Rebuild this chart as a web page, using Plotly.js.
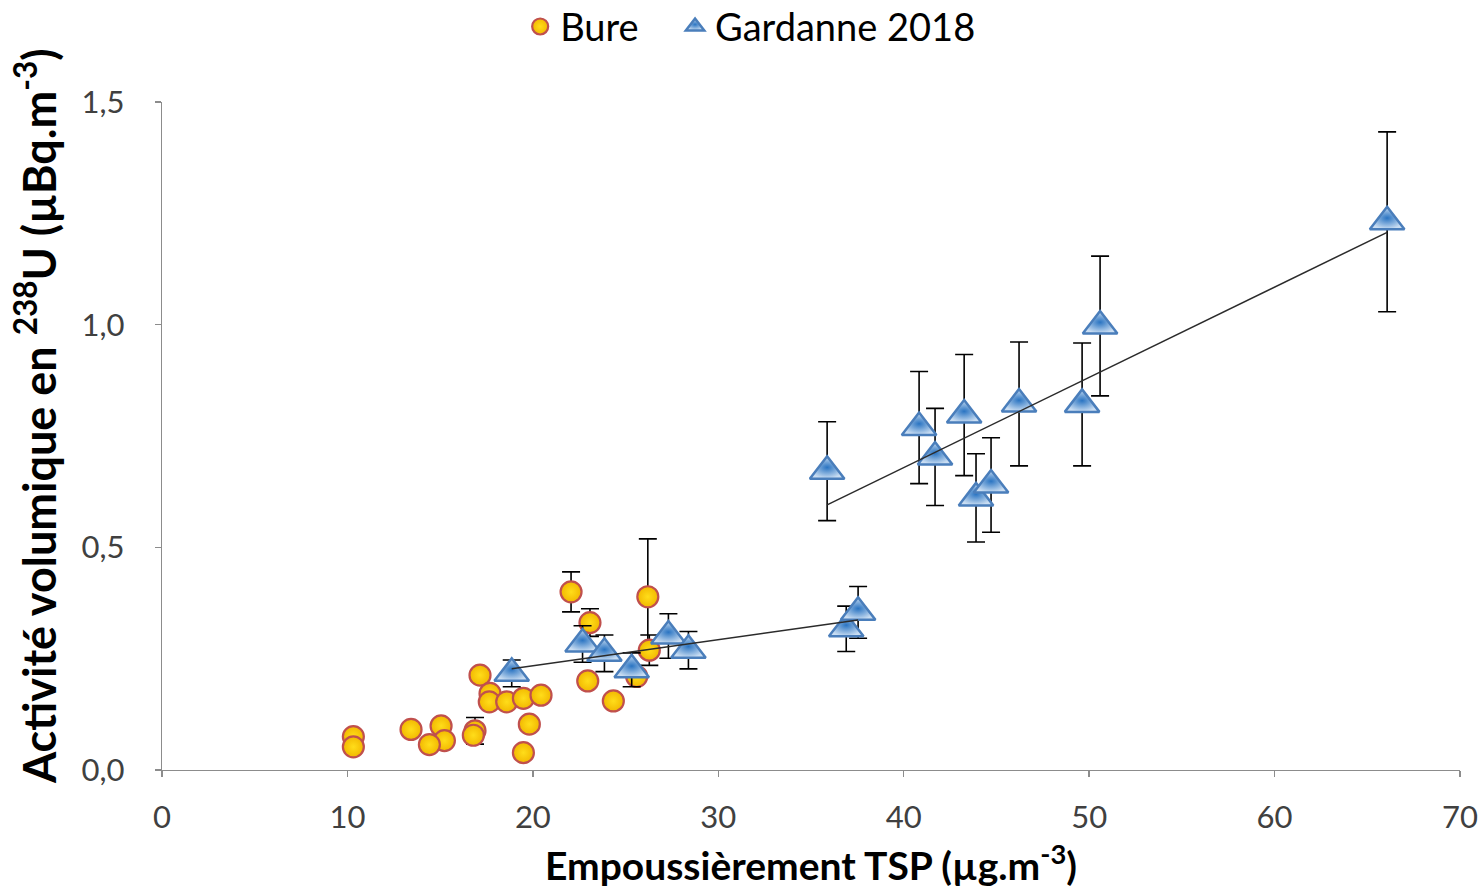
<!DOCTYPE html>
<html>
<head>
<meta charset="utf-8">
<script src="https://cdn.plot.ly/plotly-3.0.1.min.js"></script>
<style>html,body{margin:0;padding:0;background:#fff}#chart{width:1482px;height:893px}</style>
</head>
<body>
<div id="chart"></div>
<script>
// Bure
const bureX   = [10.32, 10.32, 13.43, 15.05, 15.23, 14.42, 16.88, 16.79, 17.15, 17.69, 17.65, 18.59, 19.49, 20.44, 19.81, 19.49, 22.06, 23.08, 22.96, 24.34, 26.20, 26.28, 25.60];
const bureY   = [0.075, 0.052, 0.091, 0.099, 0.066, 0.057, 0.088, 0.078, 0.213, 0.172, 0.153, 0.153, 0.161, 0.168, 0.103, 0.039, 0.400, 0.331, 0.200, 0.155, 0.389, 0.269, 0.210];
const bureErr = [0, 0, 0, 0, 0, 0, 0.030, 0, 0, 0, 0, 0, 0, 0, 0, 0, 0.045, 0.031, 0, 0, 0.130, 0.034, 0];

// Gardanne 2018 - low dust group
const gardLowX   = [18.86, 22.68, 23.86, 25.33, 27.31, 28.39, 36.90, 37.54];
const gardLowY   = [0.217, 0.283, 0.262, 0.225, 0.301, 0.269, 0.317, 0.354];
const gardLowErr = [0.030, 0.041, 0.041, 0.038, 0.050, 0.042, 0.051, 0.058];

// Gardanne 2018 - high dust group
const gardHighX   = [35.87, 40.83, 41.69, 43.26, 43.90, 44.71, 46.22, 49.62, 50.59, 66.07];
const gardHighY   = [0.671, 0.769, 0.703, 0.797, 0.611, 0.640, 0.822, 0.821, 0.997, 1.231];
const gardHighErr = [0.111, 0.126, 0.109, 0.136, 0.099, 0.106, 0.139, 0.138, 0.157, 0.202];

const xTicks = [0, 10, 20, 30, 40, 50, 60, 70];
const yTicks = [0, 0.5, 1.0, 1.5];

function linFit(xs, ys) {
  const n = xs.length;
  const mx = xs.reduce((a, b) => a + b, 0) / n;
  const my = ys.reduce((a, b) => a + b, 0) / n;
  let sxy = 0, sxx = 0;
  for (let i = 0; i < n; i++) { sxy += (xs[i] - mx) * (ys[i] - my); sxx += (xs[i] - mx) ** 2; }
  const b = sxy / sxx, a = my - b * mx;
  const x0 = Math.min(...xs), x1 = Math.max(...xs);
  return { x: [x0, x1], y: [a + b * x0, a + b * x1] };
}

const FONT = 'Lato, "Open Sans", sans-serif';
const fitLow = linFit(gardLowX, gardLowY);
const fitHigh = linFit(gardHighX, gardHighY);

const traces = [
  {
    type: 'scatter', mode: 'markers', name: 'Bure', legend: 'legend',
    x: bureX, y: bureY,
    error_y: { type: 'data', array: bureErr, visible: true, color: '#000', thickness: 1.6, width: 9 },
    marker: { symbol: 'circle', size: 21, color: '#F2B800', gradient: { type: 'radial', color: '#FFDD1A' },
              line: { color: '#C0504D', width: 2.2 } }
  },
  {
    type: 'scatter', mode: 'markers', name: 'Gardanne 2018', legend: 'legend2',
    x: gardLowX.concat(gardHighX), y: gardLowY.concat(gardHighY),
    error_y: { type: 'data', array: gardLowErr.concat(gardHighErr), visible: true, color: '#000', thickness: 1.6, width: 9 },
    marker: { symbol: 'triangle-up', size: 30, color: '#C9DDF2', gradient: { type: 'radial', color: '#2A74C2' },
              line: { color: '#4A7EBB', width: 2.5 } }
  },
  { type: 'scatter', mode: 'lines', x: fitLow.x, y: fitLow.y, showlegend: false, hoverinfo: 'skip',
    line: { color: '#2b2b2b', width: 1.5 } },
  { type: 'scatter', mode: 'lines', x: fitHigh.x, y: fitHigh.y, showlegend: false, hoverinfo: 'skip',
    line: { color: '#2b2b2b', width: 1.5 } }
];

const legendBase = {
  orientation: 'h', xref: 'container', yref: 'container',
  xanchor: 'left', y: 0.97, yanchor: 'middle',
  font: { family: FONT, size: 38, color: '#000' },
  itemwidth: 30, bgcolor: 'rgba(0,0,0,0)'
};

const layout = {
  width: 1482, height: 893,
  margin: { l: 162, r: 22, t: 102, b: 123, pad: 0 },
  paper_bgcolor: '#fff', plot_bgcolor: '#fff',
  showlegend: true,
  legend: Object.assign({}, legendBase, { x: 0.351 }),
  legend2: Object.assign({}, legendBase, { x: 0.4555 }),
  xaxis: {
    range: [0, 70], tickmode: 'array', tickvals: xTicks, ticktext: xTicks.map(String),
    showline: true, linecolor: '#8C8C8C', linewidth: 1.3, mirror: false,
    ticks: 'outside', ticklen: 6, tickwidth: 1.3, tickcolor: '#8C8C8C',
    showgrid: false, zeroline: false, ticklabelstandoff: 13,
    tickfont: { family: FONT, size: 31, color: '#404040' },
    title: { text: 'Empoussièrement TSP (µg.m<sup>-3</sup>)', standoff: 19,
             font: { family: FONT, size: 39, color: '#000', weight: 700 } }
  },
  yaxis: {
    range: [0, 1.5], tickmode: 'array', tickvals: yTicks, ticktext: yTicks.map(v => v.toFixed(1).replace('.', ',')),
    showline: true, linecolor: '#8C8C8C', linewidth: 1.3,
    ticks: 'outside', ticklen: 6, tickwidth: 1.3, tickcolor: '#8C8C8C',
    showgrid: false, zeroline: false, ticklabelstandoff: 24,
    tickfont: { family: FONT, size: 31, color: '#404040' }
  },
  annotations: [{
    text: 'Activité volumique en <sup>238</sup>U (µBq.m<sup>-3</sup>)',
    xref: 'paper', yref: 'paper', x: -0.097, y: 0.53, xanchor: 'center', yanchor: 'middle',
    textangle: -90, showarrow: false,
    font: { family: FONT, size: 45, color: '#000', weight: 700 }
  }]
};

Plotly.newPlot('chart', traces, layout, { displayModeBar: false, staticPlot: true });
</script>
</body>
</html>
